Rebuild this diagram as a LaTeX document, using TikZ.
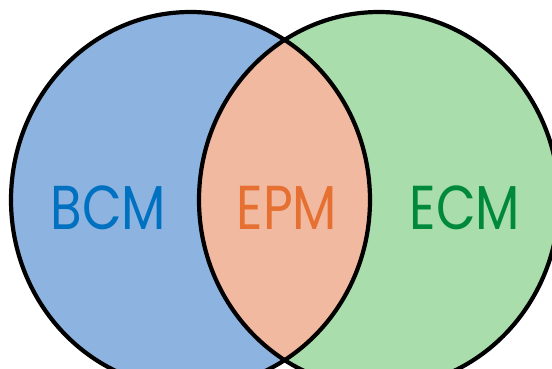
\documentclass[tikz,border=0pt]{standalone}
\usepackage{fontspec}
\setmainfont{Poppins}
\definecolor{bluefill}{RGB}{141,180,224}
\definecolor{greenfill}{RGB}{169,221,172}
\definecolor{redfill}{RGB}{241,185,160}
\definecolor{bluetext}{RGB}{0,112,192}
\definecolor{orangetext}{RGB}{230,112,50}
\definecolor{greentext}{RGB}{0,137,60}
\newcommand{\narrowlbl}[1]{\scalebox{0.83}[1]{#1}}
\begin{document}
\begin{tikzpicture}[x=1pt,y=1pt,
  outline/.style={draw=black,line width=4.2pt},
  lbl/.style={font=\fontsize{62}{62}\selectfont,inner sep=0pt,anchor=base}]
\useasboundingbox (0,0) rectangle (552,368);
\begin{scope}
\clip (0,0) rectangle (552,368);
\fill[bluefill] (190.5,168) ellipse [x radius=179.5,y radius=188];
\fill[greenfill] (379,168) ellipse [x radius=180,y radius=188];
\begin{scope}
\clip (190.5,168) ellipse [x radius=179.5,y radius=188];
\fill[redfill] (379,168) ellipse [x radius=180,y radius=188];
\end{scope}
\draw[outline] (190.5,168) ellipse [x radius=179.5,y radius=188];
\draw[outline] (379,168) ellipse [x radius=180,y radius=188];
\end{scope}
\node[lbl,text=bluetext] (bcm) at (108.5,139) {\narrowlbl{BCM}};
\node[lbl,text=orangetext] (epm) at (287,139) {\narrowlbl{EPM}};
\node[lbl,text=greentext] (ecm) at (465,139) {\narrowlbl{ECM}};
\end{tikzpicture}
\end{document}
